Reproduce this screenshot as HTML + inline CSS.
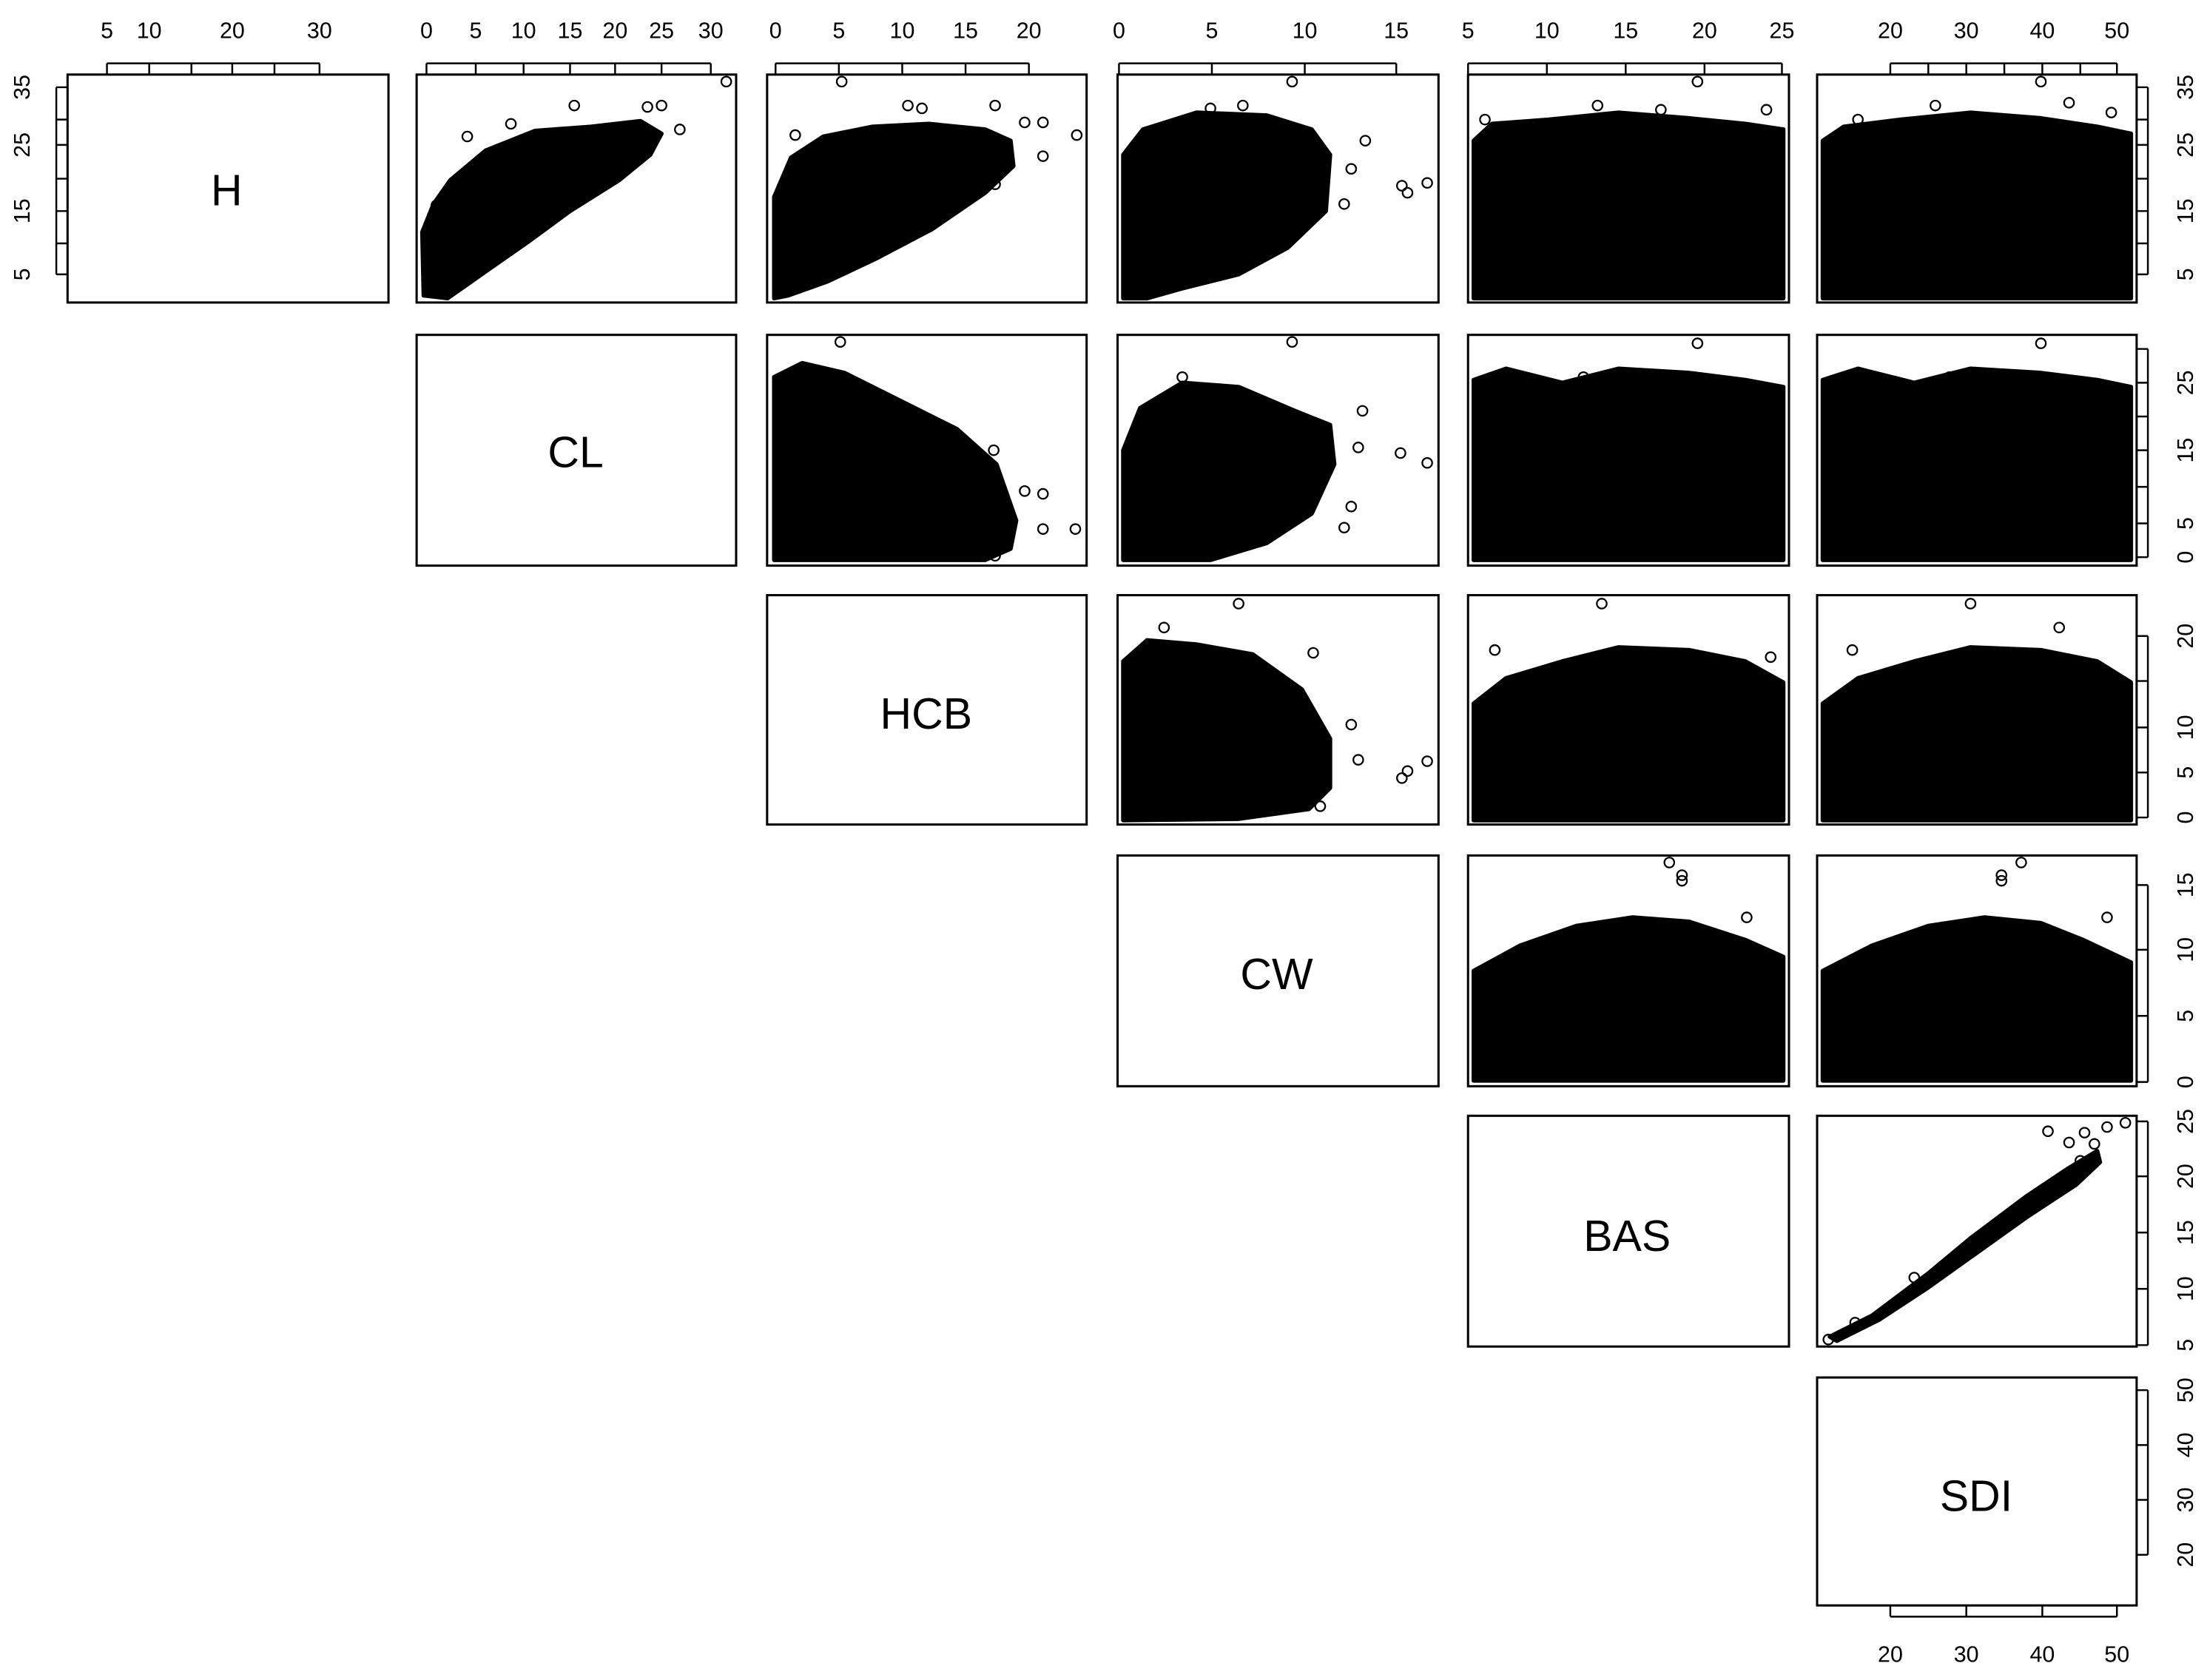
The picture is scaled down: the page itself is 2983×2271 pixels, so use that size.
<!DOCTYPE html>
<html><head><meta charset="utf-8"><style>
html,body{margin:0;padding:0;background:#fff;}
svg{display:block;}
text{font-family:"Liberation Sans",sans-serif;fill:#000;}
.t{font-size:16px;text-anchor:middle;}
.d{font-size:31px;text-anchor:middle;}
.p{fill:none;stroke:#000;stroke-width:1.6;}
.k{stroke:#000;stroke-width:1.3;}
.b{fill:#000;stroke:#000;stroke-width:3;stroke-linejoin:round;}
.o circle{fill:none;stroke:#000;stroke-width:1.2;}
</style></head><body>
<svg width="2983" height="2271" viewBox="0 0 1568 1194" preserveAspectRatio="none" xmlns="http://www.w3.org/2000/svg">
<rect width="1568" height="1194" fill="#fff"/>
<!-- blobs -->
<polygon class="b" points="301,210 300,165 308,145 320,128 345,107 380,93 420,90 455,86 470,95 462,110 440,128 405,150 375,172 345,193 318,212"/>
<polygon class="b" points="550,212 550,140 562,112 585,97 620,90 660,88 700,92 718,100 720,118 700,137 662,163 622,184 588,200 560,210"/>
<polygon class="b" points="798,212 798,110 812,92 850,80 900,82 932,92 945,110 942,150 915,176 880,195 840,205 815,212"/>
<polygon class="b" points="1047,212 1047,100 1060,88 1100,85 1150,80 1200,84 1240,88 1267,92 1267,212"/>
<polygon class="b" points="1295,212 1295,100 1310,90 1350,85 1400,80 1450,84 1490,90 1514,95 1514,212"/>
<polygon class="b" points="550,398 550,268 570,258 600,265 640,285 680,305 708,330 722,370 718,390 700,398"/>
<polygon class="b" points="798,398 798,320 810,290 840,272 880,275 920,292 945,302 948,330 932,365 900,386 860,398"/>
<polygon class="b" points="1047,398 1047,270 1070,262 1110,272 1150,262 1200,265 1240,270 1267,275 1267,398"/>
<polygon class="b" points="1295,398 1295,270 1320,262 1360,272 1400,262 1450,265 1490,270 1514,275 1514,398"/>
<polygon class="b" points="798,583 798,470 815,455 850,458 890,465 925,490 945,525 945,560 930,575 880,582"/>
<polygon class="b" points="1047,583 1047,500 1070,482 1110,470 1150,460 1200,462 1240,470 1267,485 1267,583"/>
<polygon class="b" points="1295,583 1295,500 1320,482 1360,470 1400,460 1450,462 1490,470 1514,485 1514,583"/>
<polygon class="b" points="1047,768 1047,690 1080,672 1120,658 1160,652 1200,655 1240,668 1267,680 1267,768"/>
<polygon class="b" points="1295,768 1295,690 1330,672 1370,658 1410,652 1450,656 1480,668 1514,684 1514,768"/>
<polygon class="b" points="1300,950 1330,935 1370,905 1400,880 1440,850 1470,830 1490,818 1492,826 1475,842 1440,865 1405,890 1370,915 1335,938 1305,953"/>
<g class="o">
<circle cx="516" cy="58" r="3.5"/><circle cx="483" cy="92" r="3.5"/><circle cx="470" cy="75" r="3.5"/><circle cx="460" cy="76" r="3.5"/><circle cx="446" cy="95" r="3.5"/><circle cx="408" cy="75" r="3.5"/><circle cx="332" cy="97" r="3.5"/><circle cx="310" cy="146" r="3.5"/><circle cx="363" cy="88" r="3.5"/><circle cx="420" cy="100" r="3.5"/>
<circle cx="598" cy="58" r="3.5"/><circle cx="765" cy="96" r="3.5"/><circle cx="741" cy="87" r="3.5"/><circle cx="728" cy="87" r="3.5"/><circle cx="741" cy="111" r="3.5"/><circle cx="707" cy="75" r="3.5"/><circle cx="707" cy="131" r="3.5"/><circle cx="565" cy="96" r="3.5"/><circle cx="645" cy="75" r="3.5"/><circle cx="655" cy="77" r="3.5"/>
<circle cx="918" cy="58" r="3.5"/><circle cx="1014" cy="130" r="3.5"/><circle cx="996" cy="132" r="3.5"/><circle cx="1000" cy="137" r="3.5"/><circle cx="970" cy="100" r="3.5"/><circle cx="960" cy="120" r="3.5"/><circle cx="883" cy="75" r="3.5"/><circle cx="860" cy="77" r="3.5"/><circle cx="955" cy="145" r="3.5"/>
<circle cx="1206" cy="58" r="3.5"/><circle cx="1135" cy="75" r="3.5"/><circle cx="1255" cy="78" r="3.5"/><circle cx="1180" cy="78" r="3.5"/><circle cx="1055" cy="85" r="3.5"/>
<circle cx="1450" cy="58" r="3.5"/><circle cx="1470" cy="73" r="3.5"/><circle cx="1500" cy="80" r="3.5"/><circle cx="1375" cy="75" r="3.5"/><circle cx="1320" cy="85" r="3.5"/>
<circle cx="597" cy="243" r="3.5"/><circle cx="567" cy="268" r="3.5"/><circle cx="658" cy="297" r="3.5"/><circle cx="706" cy="320" r="3.5"/><circle cx="728" cy="349" r="3.5"/><circle cx="741" cy="376" r="3.5"/><circle cx="764" cy="376" r="3.5"/><circle cx="741" cy="351" r="3.5"/><circle cx="707" cy="395" r="3.5"/>
<circle cx="918" cy="243" r="3.5"/><circle cx="840" cy="268" r="3.5"/><circle cx="1014" cy="329" r="3.5"/><circle cx="995" cy="322" r="3.5"/><circle cx="968" cy="292" r="3.5"/><circle cx="960" cy="360" r="3.5"/><circle cx="955" cy="375" r="3.5"/><circle cx="965" cy="318" r="3.5"/>
<circle cx="1206" cy="244" r="3.5"/><circle cx="1125" cy="268" r="3.5"/><circle cx="1258" cy="278" r="3.5"/><circle cx="1450" cy="244" r="3.5"/><circle cx="1385" cy="268" r="3.5"/><circle cx="1500" cy="278" r="3.5"/>
<circle cx="880" cy="429" r="3.5"/><circle cx="827" cy="446" r="3.5"/><circle cx="933" cy="464" r="3.5"/><circle cx="1014" cy="541" r="3.5"/><circle cx="996" cy="553" r="3.5"/><circle cx="1000" cy="548" r="3.5"/><circle cx="965" cy="540" r="3.5"/><circle cx="960" cy="515" r="3.5"/><circle cx="938" cy="573" r="3.5"/>
<circle cx="1138" cy="429" r="3.5"/><circle cx="1062" cy="462" r="3.5"/><circle cx="1258" cy="467" r="3.5"/><circle cx="1400" cy="429" r="3.5"/><circle cx="1316" cy="462" r="3.5"/><circle cx="1463" cy="446" r="3.5"/>
<circle cx="1186" cy="613" r="3.5"/><circle cx="1195" cy="626" r="3.5"/><circle cx="1195" cy="622" r="3.5"/><circle cx="1241" cy="652" r="3.5"/><circle cx="1436" cy="613" r="3.5"/><circle cx="1422" cy="626" r="3.5"/><circle cx="1422" cy="622" r="3.5"/><circle cx="1497" cy="652" r="3.5"/>
<circle cx="1299" cy="952" r="3.5"/><circle cx="1497" cy="801" r="3.5"/><circle cx="1510" cy="798" r="3.5"/><circle cx="1481" cy="805" r="3.5"/><circle cx="1470" cy="812" r="3.5"/><circle cx="1488" cy="813" r="3.5"/><circle cx="1455" cy="804" r="3.5"/><circle cx="1478" cy="825" r="3.5"/><circle cx="1360" cy="908" r="3.5"/><circle cx="1405" cy="880" r="3.5"/><circle cx="1318" cy="940" r="3.5"/>
</g>
<!-- panels -->
<rect class="p" x="48" y="53" width="228" height="162"/>
<rect class="p" x="296" y="53" width="227" height="162"/>
<rect class="p" x="545" y="53" width="227" height="162"/>
<rect class="p" x="794" y="53" width="228" height="162"/>
<rect class="p" x="1043" y="53" width="228" height="162"/>
<rect class="p" x="1291" y="53" width="227" height="162"/>
<rect class="p" x="296" y="238" width="227" height="164"/>
<rect class="p" x="545" y="238" width="227" height="164"/>
<rect class="p" x="794" y="238" width="228" height="164"/>
<rect class="p" x="1043" y="238" width="228" height="164"/>
<rect class="p" x="1291" y="238" width="227" height="164"/>
<rect class="p" x="545" y="423" width="227" height="163"/>
<rect class="p" x="794" y="423" width="228" height="163"/>
<rect class="p" x="1043" y="423" width="228" height="163"/>
<rect class="p" x="1291" y="423" width="227" height="163"/>
<rect class="p" x="794" y="608" width="228" height="164"/>
<rect class="p" x="1043" y="608" width="228" height="164"/>
<rect class="p" x="1291" y="608" width="227" height="164"/>
<rect class="p" x="1043" y="793" width="228" height="164"/>
<rect class="p" x="1291" y="793" width="227" height="164"/>
<rect class="p" x="1291" y="979" width="227" height="162"/>
<text class="d" x="161" y="146">H</text>
<text class="d" x="409" y="332">CL</text>
<text class="d" x="658" y="518">HCB</text>
<text class="d" x="907" y="703">CW</text>
<text class="d" x="1156" y="889">BAS</text>
<text class="d" x="1404" y="1074">SDI</text>
<!-- top axes -->
<g class="k">
<path d="M76,53V45M106,53V45M136,53V45M165,53V45M195,53V45M227,53V45M76,45H227"/>
<path d="M303,53V45M338,53V45M372,53V45M405,53V45M437,53V45M470,53V45M505,53V45M303,45H505"/>
<path d="M551,53V45M596,53V45M641,53V45M686,53V45M731,53V45M551,45H731"/>
<path d="M795,53V45M861,53V45M927,53V45M992,53V45M795,45H992"/>
<path d="M1043,53V45M1099,53V45M1155,53V45M1211,53V45M1266,53V45M1043,45H1266"/>
<path d="M1343,53V45M1370,53V45M1397,53V45M1424,53V45M1451,53V45M1478,53V45M1504,53V45M1343,45H1504"/>
<path d="M48,62H40M48,85H40M48,103H40M48,127H40M48,150H40M48,173H40M48,195H40M40,62V195"/>
<path d="M1518,62H1526M1518,85H1526M1518,103H1526M1518,127H1526M1518,150H1526M1518,173H1526M1518,195H1526M1526,62V195"/>
<path d="M1518,248H1526M1518,272H1526M1518,296H1526M1518,320H1526M1518,346H1526M1518,372H1526M1518,396H1526M1526,248V396"/>
<path d="M1518,452H1526M1518,484H1526M1518,517H1526M1518,549H1526M1518,581H1526M1526,452V581"/>
<path d="M1518,629H1526M1518,675H1526M1518,722H1526M1518,769H1526M1526,629V769"/>
<path d="M1518,797H1526M1518,836H1526M1518,876H1526M1518,916H1526M1518,956H1526M1526,797V956"/>
<path d="M1518,988H1526M1518,1027H1526M1518,1066H1526M1518,1105H1526M1526,988V1105"/>
<path d="M1343,1141V1149M1397,1141V1149M1451,1141V1149M1504,1141V1149M1343,1149H1504"/>
</g>
<g class="t">
<text x="76" y="27">5</text><text x="106" y="27">10</text><text x="165" y="27">20</text><text x="227" y="27">30</text>
<text x="303" y="27">0</text><text x="338" y="27">5</text><text x="372" y="27">10</text><text x="405" y="27">15</text><text x="437" y="27">20</text><text x="470" y="27">25</text><text x="505" y="27">30</text>
<text x="551" y="27">0</text><text x="596" y="27">5</text><text x="641" y="27">10</text><text x="686" y="27">15</text><text x="731" y="27">20</text>
<text x="795" y="27">0</text><text x="861" y="27">5</text><text x="927" y="27">10</text><text x="992" y="27">15</text>
<text x="1043" y="27">5</text><text x="1099" y="27">10</text><text x="1155" y="27">15</text><text x="1211" y="27">20</text><text x="1266" y="27">25</text>
<text x="1343" y="27">20</text><text x="1397" y="27">30</text><text x="1451" y="27">40</text><text x="1504" y="27">50</text>
<text x="1343" y="1181">20</text><text x="1397" y="1181">30</text><text x="1451" y="1181">40</text><text x="1504" y="1181">50</text>
</g>
<g class="t">
<text transform="translate(21,62) rotate(-90)">35</text><text transform="translate(21,103) rotate(-90)">25</text><text transform="translate(21,150) rotate(-90)">15</text><text transform="translate(21,195) rotate(-90)">5</text>
<text transform="translate(1558,62) rotate(-90)">35</text><text transform="translate(1558,103) rotate(-90)">25</text><text transform="translate(1558,150) rotate(-90)">15</text><text transform="translate(1558,195) rotate(-90)">5</text>
<text transform="translate(1558,272) rotate(-90)">25</text><text transform="translate(1558,320) rotate(-90)">15</text><text transform="translate(1558,372) rotate(-90)">5</text><text transform="translate(1558,396) rotate(-90)">0</text>
<text transform="translate(1558,452) rotate(-90)">20</text><text transform="translate(1558,517) rotate(-90)">10</text><text transform="translate(1558,549) rotate(-90)">5</text><text transform="translate(1558,581) rotate(-90)">0</text>
<text transform="translate(1558,629) rotate(-90)">15</text><text transform="translate(1558,675) rotate(-90)">10</text><text transform="translate(1558,722) rotate(-90)">5</text><text transform="translate(1558,769) rotate(-90)">0</text>
<text transform="translate(1558,797) rotate(-90)">25</text><text transform="translate(1558,836) rotate(-90)">20</text><text transform="translate(1558,876) rotate(-90)">15</text><text transform="translate(1558,916) rotate(-90)">10</text><text transform="translate(1558,956) rotate(-90)">5</text>
<text transform="translate(1558,988) rotate(-90)">50</text><text transform="translate(1558,1027) rotate(-90)">40</text><text transform="translate(1558,1066) rotate(-90)">30</text><text transform="translate(1558,1105) rotate(-90)">20</text>
</g>
</svg>
</body></html>
